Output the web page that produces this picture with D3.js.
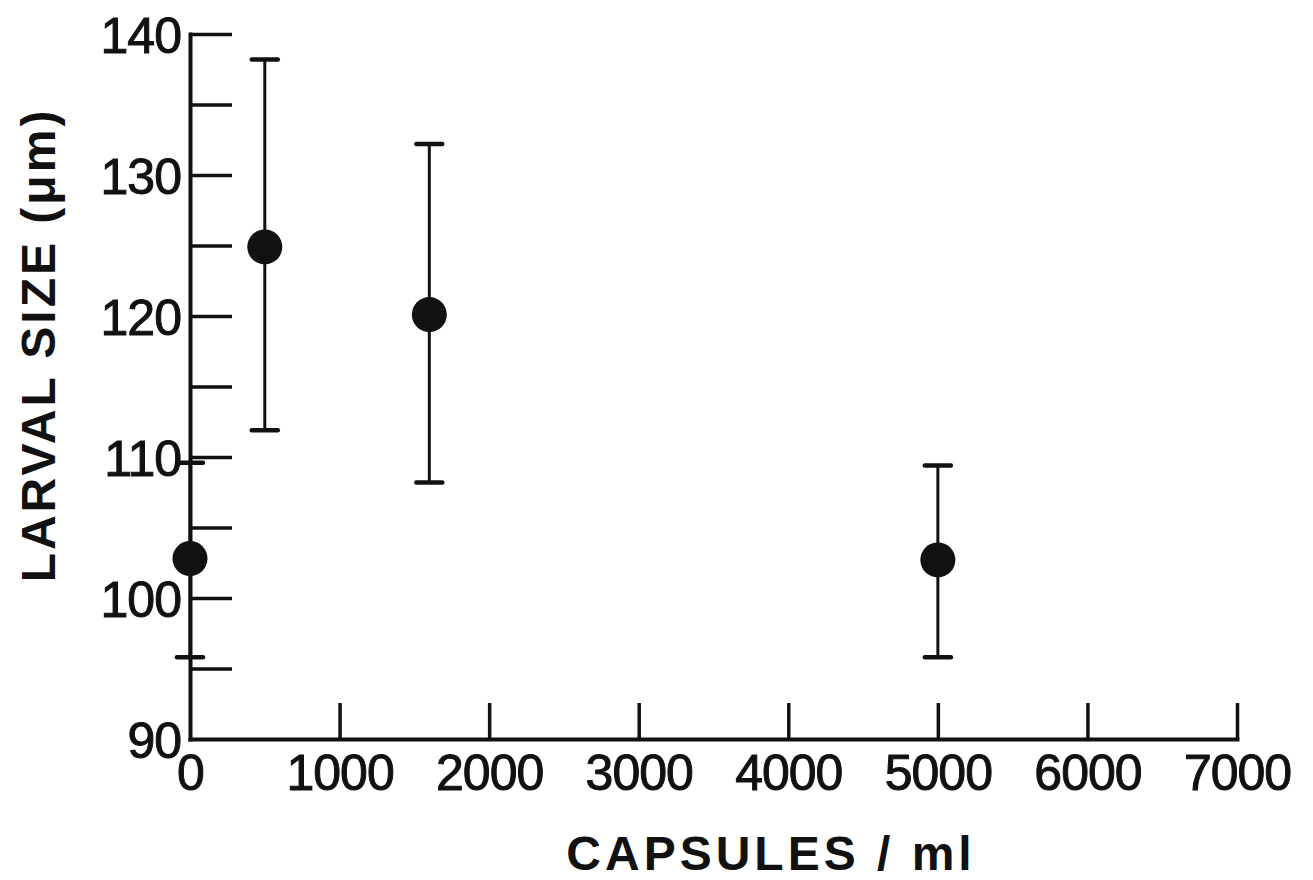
<!DOCTYPE html>
<html>
<head>
<meta charset="utf-8">
<script src="https://cdn.jsdelivr.net/npm/d3@7"></script>
<style>
	html, body { margin: 0; padding: 0; background: #fff; }
	svg { display: block; }
</style>
</head>
<body>
<svg id="chart" width="1313" height="880"></svg>
<script>
// capsule density (capsules/ml) and larval size (um)
const capsules = [0, 500, 1600, 5000];
const meanSize = [102.8, 124.9, 120.1, 102.7];
const upperSize = [109.6, 138.2, 132.2, 109.4];
const lowerSize = [95.8, 111.9, 108.2, 95.8];

const xTicks = [0, 1000, 2000, 3000, 4000, 5000, 6000, 7000];
const yTicks = [90, 95, 100, 105, 110, 115, 120, 125, 130, 135, 140];
const yTickLabels = [90, 100, 110, 120, 130, 140];

const xTitle = 'CAPSULES / ml';
const yTitle = 'LARVAL SIZE (μm)';

let ink = '#111';
let font = '"Liberation Sans", Arial, sans-serif';

let svg = d3.select('#chart');
let plotL = 190, plotR = 1237, plotT = 34, plotB = 739;

let x = d3.scaleLinear().domain([0, 7000]).range([plotL, plotR]);
let y = d3.scaleLinear().domain([90, 140]).range([plotB, plotT]);

let g = svg.append('g');

// x axis, ticks pointing up into the plot
let xAxis = g.append('g')
	.attr('transform', `translate(0,${plotB})`)
	.call(d3.axisBottom(x).tickValues(xTicks).tickSizeInner(-36).tickSizeOuter(0).tickPadding(15)
		.tickFormat(d => d));
// y axis, ticks pointing right
let yAxis = g.append('g')
	.attr('transform', `translate(${plotL},0)`)
	.call(d3.axisLeft(y).tickValues(yTicks).tickSizeInner(-42).tickSizeOuter(0).tickPadding(9)
		.tickFormat(d => yTickLabels.includes(d) ? d : ''));

[xAxis, yAxis].forEach(ax => {
	ax.select('.domain').attr('stroke', ink).attr('stroke-width', 4).attr('stroke-linecap', 'square');
	ax.selectAll('.tick line').attr('stroke', ink).attr('stroke-width', 3.5);
	ax.selectAll('.tick text')
		.attr('fill', ink)
		.attr('stroke', ink)
		.attr('stroke-width', 1)
		.attr('font-family', font)
		.attr('font-size', 50)
		.attr('letter-spacing', -1);
});
// the tick at the corner lies on the other axis
xAxis.selectAll('.tick line').filter(d => d === 0).remove();
yAxis.selectAll('.tick line').filter(d => d === 90).remove();
yAxis.selectAll('.tick text').attr('dy', '0.36em');

// error bars
let capW = 13;
let bars = g.append('g').attr('stroke', ink);
capsules.forEach((c, i) => {
	let cx = x(c);
	bars.append('line')
		.attr('x1', cx).attr('x2', cx)
		.attr('y1', y(upperSize[i])).attr('y2', y(lowerSize[i]))
		.attr('stroke-width', 3);
	bars.append('line')
		.attr('x1', cx - capW).attr('x2', cx + capW)
		.attr('y1', y(upperSize[i])).attr('y2', y(upperSize[i]))
		.attr('stroke-width', 4.5).attr('stroke-linecap', 'round');
	bars.append('line')
		.attr('x1', cx - capW).attr('x2', cx + capW)
		.attr('y1', y(lowerSize[i])).attr('y2', y(lowerSize[i]))
		.attr('stroke-width', 4.5).attr('stroke-linecap', 'round');
});

// means
g.append('g').selectAll('circle')
	.data(capsules)
	.join('circle')
	.attr('cx', d => x(d))
	.attr('cy', (d, i) => y(meanSize[i]))
	.attr('r', 17.5)
	.attr('fill', ink);

// axis titles
g.append('text')
	.attr('x', 771).attr('y', 870)
	.attr('text-anchor', 'middle')
	.attr('font-family', font).attr('font-weight', 'bold')
	.attr('font-size', 48).attr('letter-spacing', 4)
	.attr('fill', ink)
	.text(xTitle);

g.append('text')
	.attr('transform', 'translate(55,345) rotate(-90)')
	.attr('text-anchor', 'middle')
	.attr('font-family', font).attr('font-weight', 'bold')
	.attr('font-size', 48).attr('letter-spacing', 3)
	.attr('fill', ink)
	.text(yTitle);
</script>
</body>
</html>
